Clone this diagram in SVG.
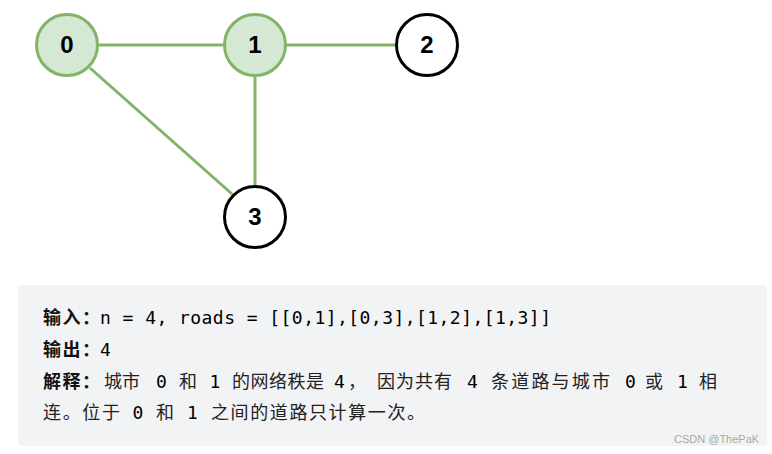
<svg xmlns="http://www.w3.org/2000/svg" width="772" height="454" viewBox="0 0 772 454">
<style>
.edge{stroke:#82b366;stroke-width:3;fill:none}
.g{fill:#d5e8d4;stroke:#82b366;stroke-width:3}
.w{fill:#ffffff;stroke:#000000;stroke-width:3}
.lbl{font-family:"Liberation Sans",Arial,sans-serif;font-weight:bold;font-size:24px;fill:#000;text-anchor:middle}
.t{font-family:"Noto Sans CJK SC",sans-serif;font-size:18px;fill:#222}
.b{font-weight:bold;fill:#111}
.m{font-family:"DejaVu Sans Mono","Liberation Mono",monospace;font-size:18px;fill:#000}
.wm{font-family:"Liberation Sans",Arial,sans-serif;font-size:11px;fill:#a8a8a8}
</style>
<rect width="772" height="454" fill="#ffffff"/>
<g id="connectors">
<line class="edge" x1="99" y1="45" x2="223" y2="45"/>
<line class="edge" x1="287" y1="45" x2="395" y2="45"/>
<line class="edge" x1="255" y1="77" x2="255" y2="185"/>
<line class="edge" x1="90" y1="68" x2="232" y2="194"/>
</g>
<g id="node0"><circle class="g" cx="67" cy="45" r="30.5"/><text class="lbl" x="67" y="53">0</text></g>
<g id="node1"><circle class="g" cx="255" cy="45" r="30.5"/><text class="lbl" x="255" y="53">1</text></g>
<g id="node2"><circle class="w" cx="427" cy="45" r="30.5"/><text class="lbl" x="427" y="53">2</text></g>
<g id="node3"><circle class="w" cx="255" cy="217" r="30.5"/><text class="lbl" x="255" y="225">3</text></g>
<g id="example">
<rect x="18" y="285" width="749" height="161" rx="4" fill="#f2f3f5"/>
<text class="t" y="324"><tspan class="b" x="43" textLength="57">输入：</tspan><tspan class="m" x="100" textLength="451">n = 4, roads = [[0,1],[0,3],[1,2],[1,3]]</tspan></text>
<text class="t" y="356"><tspan class="b" x="43" textLength="57">输出：</tspan><tspan class="m" x="100">4</tspan></text>
<text class="t" y="388"><tspan class="b" x="43" textLength="57">解释：</tspan><tspan x="104">城市</tspan><tspan class="m" x="156">0</tspan><tspan x="179">和</tspan><tspan class="m" x="209.5">1</tspan><tspan x="232" textLength="92">的网络秩是</tspan><tspan class="m" x="334">4</tspan><tspan x="348">，</tspan><tspan x="377" textLength="75">因为共有</tspan><tspan class="m" x="467">4</tspan><tspan x="491" textLength="119">条道路与城市</tspan><tspan class="m" x="625">0</tspan><tspan x="645">或</tspan><tspan class="m" x="677">1</tspan><tspan x="699">相</tspan></text>
<text class="t" y="419"><tspan x="43" textLength="77">连。位于</tspan><tspan class="m" x="132.5">0</tspan><tspan x="156">和</tspan><tspan class="m" x="187">1</tspan><tspan x="211" textLength="214">之间的道路只计算一次。</tspan></text>
<text class="wm" x="674" y="443">CSDN @ThePaK</text>
</g>
</svg>
